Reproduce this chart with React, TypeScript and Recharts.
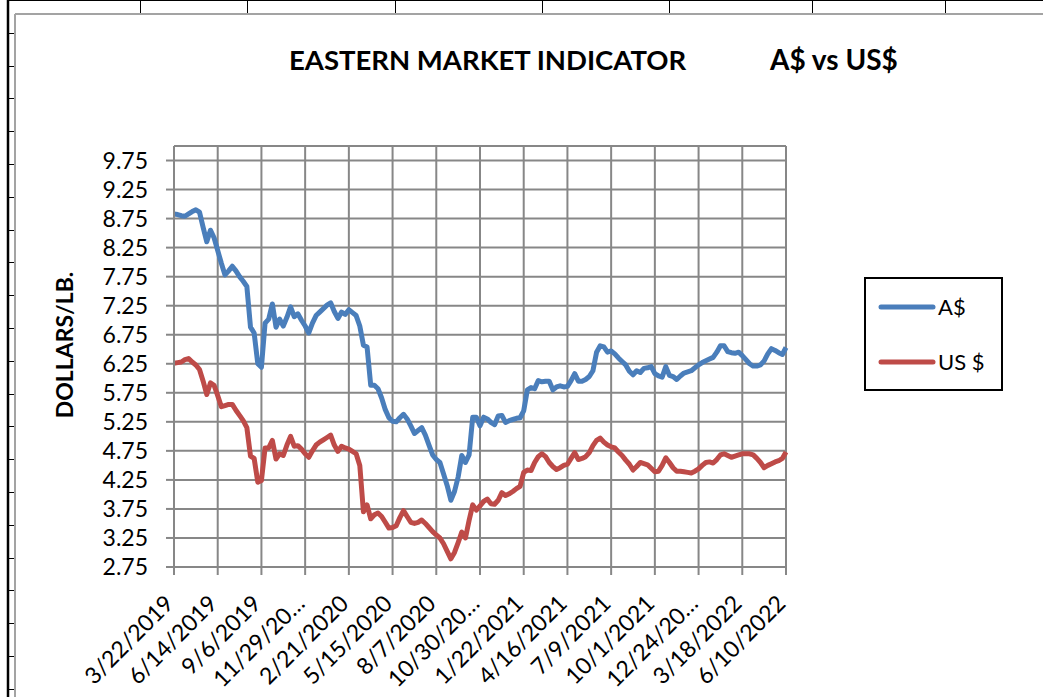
import { LineChart, Line, XAxis, YAxis, CartesianGrid } from "recharts";

const FONT = "Lato, 'Open Sans', sans-serif";
const GRID = "#878787";
const BLUE = "#4A7EBB";
const RED = "#BE4B48";

// weekly prices, 3/22/2019 .. 6/10/2022
const audPrices = [
  8.83, 8.82, 8.8, 8.79, 8.83, 8.87, 8.9, 8.86, 8.6, 8.35, 8.55, 8.42, 8.2, 7.98, 7.78, 7.85, 7.93, 7.85, 7.75, 7.67,
  7.58, 6.88, 6.78, 6.25, 6.19, 6.95, 7.02, 7.28, 6.88, 7.02, 6.9, 7.05, 7.23, 7.06, 7.11, 7.0, 6.9, 6.78, 6.95, 7.08,
  7.14, 7.2, 7.26, 7.3, 7.15, 7.03, 7.14, 7.1, 7.18, 7.13, 7.08, 6.9, 6.57, 6.54, 5.88, 5.88, 5.82, 5.66, 5.46, 5.32,
  5.26, 5.25, 5.32, 5.38, 5.3, 5.18, 5.05, 5.1, 5.15, 5.02, 4.85, 4.68, 4.6, 4.55, 4.35, 4.15, 3.9, 4.05, 4.3, 4.67,
  4.55, 4.68, 5.33, 5.33, 5.18, 5.33, 5.3, 5.24, 5.2, 5.35, 5.36, 5.24, 5.27, 5.29, 5.31, 5.32, 5.44, 5.8, 5.84, 5.82,
  5.96, 5.94, 5.95, 5.95, 5.8, 5.85, 5.87, 5.85, 5.86, 5.96, 6.08, 5.95, 5.95, 5.98, 6.03, 6.13, 6.45, 6.56, 6.54, 6.45,
  6.47, 6.42, 6.35, 6.29, 6.23, 6.12, 6.06, 6.13, 6.1, 6.17, 6.18, 6.2, 6.08, 6.04, 6.02, 6.2, 6.05, 6.03, 5.98, 6.04,
  6.09, 6.11, 6.13, 6.18, 6.23, 6.27, 6.3, 6.33, 6.36, 6.45, 6.56, 6.56, 6.46, 6.44, 6.43, 6.45, 6.39, 6.32, 6.25, 6.21,
  6.21, 6.23, 6.3, 6.42, 6.51, 6.48, 6.44, 6.41, 6.53,
];

const usdPrices = [
  6.26, 6.27, 6.28, 6.32, 6.34, 6.28, 6.23, 6.15, 5.95, 5.72, 5.92, 5.88, 5.7, 5.51, 5.53, 5.55, 5.55, 5.45, 5.36, 5.27,
  5.15, 4.66, 4.62, 4.21, 4.24, 4.8, 4.8, 4.93, 4.61, 4.7, 4.67, 4.85, 5.0, 4.83, 4.84, 4.78, 4.7, 4.64, 4.75, 4.85,
  4.9, 4.94, 4.98, 5.02, 4.85, 4.74, 4.83, 4.8, 4.78, 4.74, 4.7, 4.5, 3.7, 3.82, 3.58, 3.65, 3.68, 3.62, 3.52, 3.42,
  3.43, 3.46, 3.6, 3.72, 3.62, 3.52, 3.5, 3.52, 3.56, 3.5, 3.43, 3.36, 3.3, 3.25, 3.15, 3.02, 2.89, 3.0, 3.17, 3.35,
  3.25, 3.55, 3.82, 3.73, 3.8, 3.88, 3.92, 3.84, 3.83, 3.9, 4.03, 3.98, 4.01, 4.05, 4.1, 4.14, 4.38, 4.42, 4.41, 4.55,
  4.65, 4.7, 4.65, 4.55, 4.48, 4.43, 4.46, 4.5, 4.52, 4.62, 4.72, 4.6, 4.62, 4.65, 4.72, 4.84, 4.93, 4.97, 4.9, 4.85,
  4.82, 4.8, 4.73, 4.67, 4.59, 4.52, 4.42, 4.48, 4.55, 4.53, 4.51, 4.45, 4.39, 4.4, 4.5, 4.63, 4.55, 4.46, 4.4, 4.4,
  4.39, 4.38, 4.37, 4.4, 4.44, 4.5, 4.55, 4.56, 4.54, 4.6, 4.68, 4.7, 4.67, 4.64, 4.66, 4.68, 4.7, 4.7, 4.7, 4.68,
  4.62, 4.55, 4.46, 4.5, 4.53, 4.56, 4.58, 4.62, 4.73,
];

const yTicks = [2.75, 3.25, 3.75, 4.25, 4.75, 5.25, 5.75, 6.25, 6.75, 7.25, 7.75, 8.25, 8.75, 9.25, 9.75];

const xTickLabels = [
  "3/22/2019", "6/14/2019", "9/6/2019", "11/29/20…", "2/21/2020", "5/15/2020", "8/7/2020", "10/30/20…",
  "1/22/2021", "4/16/2021", "7/9/2021", "10/1/2021", "12/24/20…", "3/18/2022", "6/10/2022",
];
const xTickWeeks = xTickLabels.map((_, i) => i * 12);

const weekDates = audPrices.map((_, i) => {
  const d = new Date(2019, 2, 22 + i * 7);
  return `${d.getMonth() + 1}/${d.getDate()}/${d.getFullYear()}`;
});

const data = weekDates.map((date, i) => ({
  week: i,
  date,
  aud: audPrices[i],
  usd: usdPrices[i],
}));

// spreadsheet cells behind the chart
const colLines = [140, 247, 395, 542, 669, 812, 945];
const rowTicks = Array.from({ length: 21 }, (_, i) => Math.round((i + 1) * 32.8));

function XTick({ x, payload }: { x: number; payload: { value: number } }) {
  const label = xTickLabels[xTickWeeks.indexOf(payload.value)] ?? "";
  const ax = x + 1;
  const ay = 605;
  return (
    <text
      x={ax}
      y={ay}
      textAnchor="end"
      transform={`rotate(-45, ${ax}, ${ay})`}
      fontSize={23}
      fontFamily={FONT}
      fill="#000"
    >
      {label}
    </text>
  );
}

export default function App() {
  return (
    <div style={{ position: "absolute", left: 0, top: 0, width: 1043, height: 697, background: "#fff", overflow: "hidden" }}>
      <svg width={1043} height={697} style={{ position: "absolute", left: 0, top: 0 }}>
        <line x1={8} y1={0.5} x2={1043} y2={0.5} stroke="#000" strokeWidth={1} />
        {colLines.map((cx) => (
          <line key={cx} x1={cx + 0.5} y1={0} x2={cx + 0.5} y2={13} stroke="#000" strokeWidth={1} />
        ))}
        <line x1={8} y1={0} x2={8} y2={697} stroke="#000" strokeWidth={2.5} />
        {rowTicks.map((ry) => (
          <line key={ry} x1={9} y1={ry + 0.5} x2={14} y2={ry + 0.5} stroke="#000" strokeWidth={1} />
        ))}
        <line x1={15} y1={14} x2={1043} y2={14} stroke="#a3a3a3" strokeWidth={2} />
        <line x1={15} y1={14} x2={15} y2={697} stroke="#a3a3a3" strokeWidth={2} />
      </svg>

      <div style={{ position: "absolute", left: 0, top: 0 }}>
        <LineChart
          width={1043}
          height={697}
          data={data}
          margin={{ top: 146, right: 257, bottom: 20, left: 114 }}
        >
          <CartesianGrid stroke={GRID} strokeWidth={2} />
          <XAxis
            dataKey="week"
            type="number"
            domain={[0, 168]}
            ticks={xTickWeeks}
            interval={0}
            height={110}
            tick={XTick}
            tickSize={8}
            tickLine={{ stroke: GRID, strokeWidth: 2 }}
            axisLine={{ stroke: GRID, strokeWidth: 2 }}
          />
          <YAxis
            type="number"
            domain={[2.75, 10]}
            ticks={yTicks}
            interval={0}
            width={60}
            tickFormatter={(v: number) => v.toFixed(2)}
            tick={{ fontSize: 23, fill: "#000", fontFamily: FONT }}
            tickSize={8}
            tickMargin={18}
            tickLine={{ stroke: GRID, strokeWidth: 2 }}
            axisLine={{ stroke: GRID, strokeWidth: 2 }}
          />
          <Line
            dataKey="aud"
            name="A$"
            type="linear"
            stroke={BLUE}
            strokeWidth={5}
            strokeLinejoin="round"
            dot={false}
            isAnimationActive={false}
          />
          <Line
            dataKey="usd"
            name="US $"
            type="linear"
            stroke={RED}
            strokeWidth={5}
            strokeLinejoin="round"
            dot={false}
            isAnimationActive={false}
          />
        </LineChart>
      </div>

      <svg width={1043} height={697} style={{ position: "absolute", left: 0, top: 0, pointerEvents: "none" }}>
        <text x={289} y={70} fontSize={27.5} fontWeight="bold" fontFamily={FONT} fill="#000">
          EASTERN MARKET INDICATOR
        </text>
        <text x={770} y={70} fontSize={28} fontWeight="bold" fontFamily={FONT} fill="#000">
          A$ vs US$
        </text>
        <text
          x={73}
          y={345}
          textAnchor="middle"
          transform="rotate(-90, 73, 345)"
          fontSize={23}
          fontWeight="bold"
          fontFamily={FONT}
          fill="#000"
        >
          DOLLARS/LB.
        </text>

        <rect x={865} y={278} width={137} height={112} fill="#fff" stroke="#000" strokeWidth={2} />
        <line x1={881} y1={307} x2={933} y2={307} stroke={BLUE} strokeWidth={5} strokeLinecap="round" />
        <text x={938} y={315} fontSize={22} fontFamily={FONT} fill="#000">A$</text>
        <line x1={881} y1={362} x2={933} y2={362} stroke={RED} strokeWidth={5} strokeLinecap="round" />
        <text x={938} y={370} fontSize={22} fontFamily={FONT} fill="#000">US $</text>
      </svg>
    </div>
  );
}
